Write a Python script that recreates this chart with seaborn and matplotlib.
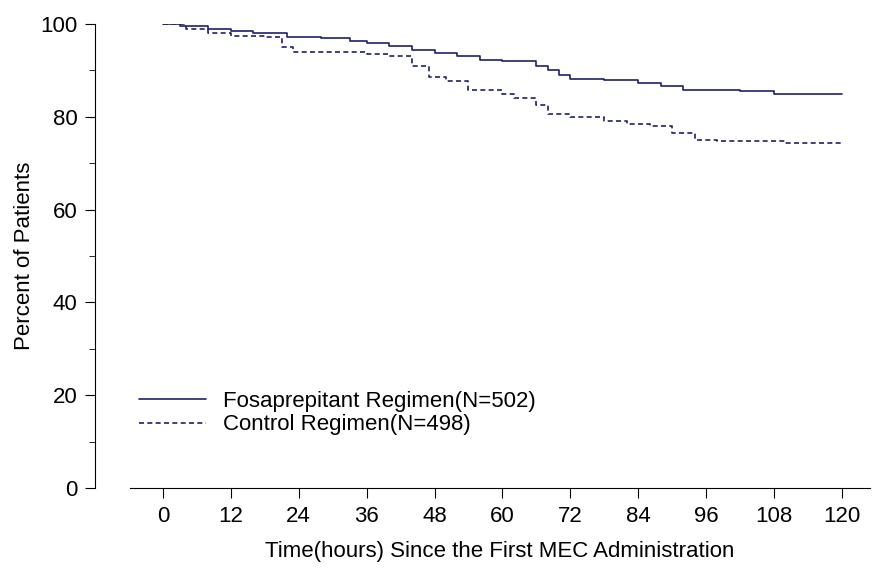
import numpy as np
import pandas as pd
import seaborn as sns
import matplotlib.pyplot as plt
from matplotlib.ticker import MultipleLocator

fosa_t = [0, 3, 8, 12, 16, 22, 28, 33, 36, 40, 44, 48, 52, 56, 60, 66, 68, 70, 72, 78, 84, 88, 92, 102, 108, 120]
fosa_v = [100, 99.6, 99.0, 98.6, 98.0, 97.3, 97.0, 96.4, 96.0, 95.3, 94.3, 93.8, 93.0, 92.3, 92.0, 91.0, 90.0, 89.0, 88.2, 88.0, 87.2, 86.6, 85.7, 85.5, 85.0, 85.0]
ctrl_t = [0, 4, 8, 12, 18, 21, 23, 36, 40, 44, 47, 50, 54, 60, 62, 66, 68, 70, 72, 78, 82, 86, 90, 94, 98, 110, 120]
ctrl_v = [100, 99.0, 98.0, 97.5, 97.3, 95.0, 94.0, 93.5, 93.0, 91.0, 88.5, 87.7, 85.7, 85.0, 84.0, 82.5, 80.6, 80.5, 80.0, 79.0, 78.5, 78.0, 76.5, 75.0, 74.8, 74.3, 74.3]
labels = ['Fosaprepitant Regimen(N=502)', 'Control Regimen(N=498)']

df = pd.concat([
    pd.DataFrame({'t': fosa_t, 'v': fosa_v, 'g': labels[0]}),
    pd.DataFrame({'t': ctrl_t, 'v': ctrl_v, 'g': labels[1]}),
])

sns.set_style('ticks', {'text.color': 'black', 'axes.labelcolor': 'black',
                        'xtick.color': 'black', 'ytick.color': 'black', 'axes.edgecolor': 'black'})
plt.rcParams['font.family'] = ['Liberation Sans', 'DejaVu Sans']
fig, ax = plt.subplots(figsize=(8.79, 5.72), dpi=100)
navy = '#1c1f7a'
sns.lineplot(data=df, x='t', y='v', hue='g', style='g', palette=[navy, navy],
             dashes=[(None, None), (3, 2)], drawstyle='steps-post', linewidth=1.2, ax=ax)

ax.set_xlim(-5.8, 125)
ax.set_ylim(0, 100)
ax.set_xticks(np.arange(0, 121, 12))
ax.set_yticks(np.arange(0, 101, 20))
ax.yaxis.set_minor_locator(MultipleLocator(10))
ax.tick_params(labelsize=16, length=7, pad=6)
ax.tick_params(which='minor', length=4)
ax.set_xlabel('Time(hours) Since the First MEC Administration', fontsize=16, labelpad=10)
ax.set_ylabel('Percent of Patients', fontsize=16, labelpad=4)
sns.despine(ax=ax)
ax.spines['left'].set_position(('outward', 25))
ax.legend(loc='lower left', bbox_to_anchor=(-0.015, 0.07), frameon=False, fontsize=16,
          handlelength=3, title=None, labelspacing=0.1)
fig.subplots_adjust(left=0.148, right=0.99, top=0.958, bottom=0.147)
fig.savefig('out.png')
